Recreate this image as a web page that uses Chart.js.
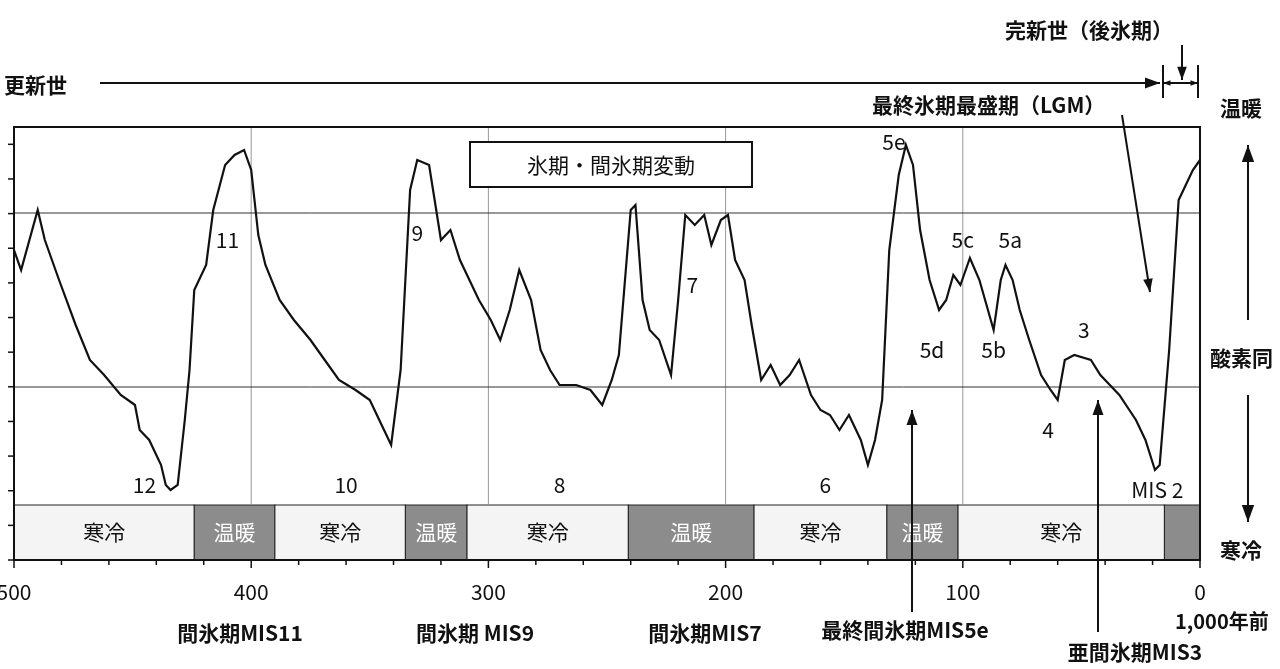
<!DOCTYPE html>
<html><head><meta charset="utf-8">
<script src="https://cdn.jsdelivr.net/npm/chart.js@4/dist/chart.umd.min.js"></script>
<style>body{margin:0;background:#fff}#wrap{width:1280px;height:669px}</style>
</head><body><div id="wrap"><canvas id="c"></canvas></div>
<script>
// ages in thousand years before present, values in arbitrary units (0 = bottom of plot)
const ages = [500,497,490,487,481,474,468,462,455,449,447,443,438,436,434,431,428,426,424,419,416,411,407,403,400,397,394,388,382,375,369,363,356,350,344,341,337,333,330,325,323,320,316,312,308,304,299,295,291,287,282,278,274,270,263,257,252,248,245,240,238,235,232,228,223,220,217,213,209,206,202,199,196,192,189,185,181,177,173,169,164,160,156,152,148,143,140,137,134,131,127,124,121,118,114,110,107,104,101,97,93,87,84,82,79,76,72,67,63,60,57,53,46,42,38,34,27,23,19,17,13,9,6,3,0];
const isotope = [310,290,350,320,280,235,200,185,165,155,130,120,95,75,70,75,140,190,270,295,350,395,405,410,390,325,295,260,240,220,200,180,170,160,130,115,190,370,400,395,365,320,330,300,280,260,240,220,250,290,260,210,190,175,175,170,155,180,205,350,355,260,230,220,185,260,345,335,345,315,340,345,300,280,235,180,195,175,185,200,165,150,145,130,145,120,95,120,160,310,385,415,395,330,280,250,260,285,275,302,280,230,280,295,280,250,220,185,170,160,200,205,200,185,175,165,140,120,90,95,210,360,375,390,400];
const bandStart = [500,424,390,335,309,241,188,132,102,15];
const bandEnd   = [424,390,335,309,241,188,132,102,15,0];
const bandLabel = ['寒冷','温暖','寒冷','温暖','寒冷','温暖','寒冷','温暖','寒冷',''];
const xTicks = [500,400,300,200,100,0];
const misLabels = [['12',445,75],['11',410,320],['10',360,75],['9',330,327],['8',270,75],['7',214,275],['6',158,75],['5e',129,418],['5d',113,210],['5c',100,320],['5a',80,320],['5b',87,210],['3',49,230],['4',64,130],['MIS 2',18,70]];

const F = '"Noto Sans CJK JP", sans-serif';
function arrow(ctx, x1, y1, x2, y2, h) {
  ctx.beginPath(); ctx.moveTo(x1, y1); ctx.lineTo(x2, y2); ctx.stroke();
  let a = Math.atan2(y2 - y1, x2 - x1);
  ctx.beginPath();
  ctx.moveTo(x2, y2);
  ctx.lineTo(x2 - h * Math.cos(a - 0.35), y2 - h * Math.sin(a - 0.35));
  ctx.lineTo(x2 - h * Math.cos(a + 0.35), y2 - h * Math.sin(a + 0.35));
  ctx.closePath(); ctx.fill();
}

const deco = {
  id: 'deco',
  beforeDatasetsDraw(chart) {
    let ctx = chart.ctx, xs = chart.scales.x, ys = chart.scales.y, a = chart.chartArea;
    ctx.save();
    // bands
    let bt = ys.getPixelForValue(55);
    for (let i = 0; i < bandStart.length; i++) {
      let x0 = xs.getPixelForValue(bandStart[i]), x1 = xs.getPixelForValue(bandEnd[i]);
      let warm = bandLabel[i] != '寒冷';
      ctx.fillStyle = warm ? '#8c8c8c' : '#f4f4f4';
      ctx.fillRect(x0, bt, x1 - x0, a.bottom - bt);
      ctx.strokeStyle = '#222'; ctx.lineWidth = 1;
      ctx.strokeRect(x0, bt, x1 - x0, a.bottom - bt);
      ctx.fillStyle = warm ? '#fff' : '#111';
      ctx.font = '21px ' + F; ctx.textAlign = 'center'; ctx.textBaseline = 'middle';
      ctx.fillText(bandLabel[i], (x0 + x1) / 2, (bt + a.bottom) / 2);
    }
    // grid
    ctx.strokeStyle = '#999'; ctx.lineWidth = 1;
    [100,200,300,400].forEach(v => { let x = xs.getPixelForValue(v); ctx.beginPath(); ctx.moveTo(x, a.top); ctx.lineTo(x, bt); ctx.stroke(); });
    ctx.strokeStyle = '#333';
    [173,347].forEach(v => { let y = ys.getPixelForValue(v); ctx.beginPath(); ctx.moveTo(a.left, y); ctx.lineTo(a.right, y); ctx.stroke(); });
    ctx.restore();
  },
  afterDraw(chart) {
    let ctx = chart.ctx, xs = chart.scales.x, ys = chart.scales.y, a = chart.chartArea;
    ctx.save();
    ctx.strokeStyle = '#111'; ctx.fillStyle = '#111'; ctx.lineWidth = 2;
    ctx.strokeRect(a.left, a.top, a.right - a.left, a.bottom - a.top);
    ctx.lineWidth = 1.5;
    for (let v = 0; v <= 433; v += 34.64) { let y = ys.getPixelForValue(v); ctx.beginPath(); ctx.moveTo(a.left - 6, y); ctx.lineTo(a.left, y); ctx.stroke(); }
    for (let v = 0; v <= 500; v += 20) { let x = xs.getPixelForValue(v); ctx.beginPath(); ctx.moveTo(x, a.bottom); ctx.lineTo(x, a.bottom + (v % 100 ? 5 : 8)); ctx.stroke(); }
    ctx.font = '21px ' + F; ctx.textAlign = 'center'; ctx.textBaseline = 'middle';
    xTicks.forEach(v => ctx.fillText(String(v), xs.getPixelForValue(v), 592));
    ctx.font = 'bold 20px ' + F;
    ctx.textAlign = 'left'; ctx.fillText('1,000年前', 1175, 621);
    // MIS numbers
    ctx.font = '21px ' + F; ctx.textAlign = 'center';
    misLabels.forEach(m => ctx.fillText(m[0], xs.getPixelForValue(m[1]), ys.getPixelForValue(m[2])));
    // box
    ctx.fillStyle = '#fff'; ctx.fillRect(470, 142, 282, 45);
    ctx.lineWidth = 2; ctx.strokeRect(470, 142, 282, 45);
    ctx.fillStyle = '#111'; ctx.font = '21px ' + F; ctx.fillText('氷期・間氷期変動', 611, 165);
    // top annotations
    ctx.font = 'bold 21px ' + F; ctx.textAlign = 'left';
    ctx.fillText('更新世', 4, 85);
    ctx.fillText('完新世（後氷期）', 1005, 30);
    ctx.fillText('最終氷期最盛期（LGM）', 872, 105);
    ctx.fillText('温暖', 1220, 108);
    ctx.fillText('寒冷', 1220, 550);
    ctx.fillText('酸素同', 1210, 358);
    ctx.lineWidth = 2;
    arrow(ctx, 100, 83, 1160, 83, 16);
    ctx.beginPath(); ctx.moveTo(1163, 65); ctx.lineTo(1163, 98); ctx.moveTo(1198, 65); ctx.lineTo(1198, 98); ctx.stroke();
    arrow(ctx, 1175, 83, 1198, 83, 8); arrow(ctx, 1186, 83, 1163, 83, 8);
    arrow(ctx, 1182, 45, 1182, 80, 14);
    arrow(ctx, 1122, 115, 1150, 292, 14);
    arrow(ctx, 1248, 320, 1248, 145, 18);
    arrow(ctx, 1248, 395, 1248, 522, 18);
    // bottom annotations
    ctx.textAlign = 'center';
    ctx.fillText('間氷期MIS11', 240, 633);
    ctx.fillText('間氷期 MIS9', 475, 633);
    ctx.fillText('間氷期MIS7', 705, 633);
    ctx.fillText('最終間氷期MIS5e', 905, 630);
    ctx.fillText('亜間氷期MIS3', 1135, 652);
    arrow(ctx, 912, 612, 912, 410, 16);
    arrow(ctx, 1098, 632, 1098, 400, 16);
    ctx.restore();
  }
};

new Chart(document.getElementById('c'), {
  type: 'line',
  data: { datasets: [{ data: ages.map((a, i) => ({x: a, y: isotope[i]})), borderColor: '#111', borderWidth: 2.2, pointRadius: 0, tension: 0 }] },
  options: {
    responsive: true, maintainAspectRatio: false, animation: false,
    layout: { padding: { left: 14, right: 80, top: 127, bottom: 109 } },
    plugins: { legend: { display: false }, tooltip: { enabled: false } },
    scales: {
      x: { type: 'linear', reverse: true, min: 0, max: 500, display: false },
      y: { min: 0, max: 433, display: false }
    }
  },
  plugins: [deco]
});
</script></body></html>
